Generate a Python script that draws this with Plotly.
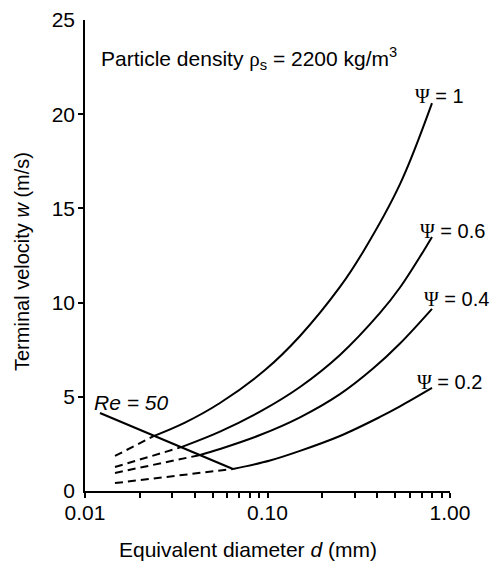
import numpy as np
import plotly.graph_objects as go

# ---- data ----
psi_labels = ["1", "0.6", "0.4", "0.2"]

# dashed part (below Re = 50) and solid part for each shape factor
psi1_dash_d = [0.0146, 0.0236]
psi1_dash_w = [1.86, 2.90]
psi1_solid_d = [0.0236, 0.0353, 0.0549, 0.0969, 0.1507, 0.2495, 0.3337, 0.5321, 0.7967]
psi1_solid_w = [2.90, 3.63, 4.67, 6.42, 8.23, 10.83, 12.69, 16.29, 20.59]

psi06_dash_d = [0.0146, 0.0340]
psi06_dash_w = [1.27, 2.34]
psi06_solid_d = [0.0340, 0.0549, 0.0910, 0.1507, 0.2495, 0.4134, 0.5321, 0.7110, 0.7967]
psi06_solid_w = [2.34, 3.15, 4.21, 5.52, 7.22, 9.45, 10.80, 12.69, 13.48]

psi04_dash_d = [0.0146, 0.0427]
psi04_dash_w = [0.96, 1.91]
psi04_solid_d = [0.0427, 0.0549, 0.0910, 0.1507, 0.2495, 0.3786, 0.5321, 0.7967]
psi04_solid_w = [1.91, 2.23, 2.97, 3.91, 5.14, 6.50, 7.83, 9.67]

psi02_dash_d = [0.0146, 0.0647]
psi02_dash_w = [0.42, 1.17]
psi02_solid_d = [0.0647, 0.1032, 0.1507, 0.2495, 0.4134, 0.5321, 0.7967]
psi02_solid_w = [1.17, 1.62, 2.13, 2.92, 3.93, 4.49, 5.47]

re50_d = [0.01208, 0.0647]
re50_w = [4.14, 1.17]

# label anchor positions (data units)
label_d = [0.627, 0.668, 0.703, 0.643]
label_w = [20.95, 13.8, 10.2, 5.77]

x_major = [0.01, 0.1, 1.0]
x_major_text = ["0.01", "0.10", "1.00"]
x_minor = [0.02, 0.03, 0.04, 0.05, 0.06, 0.07, 0.08, 0.09,
           0.2, 0.3, 0.4, 0.5, 0.6, 0.7, 0.8, 0.9]
y_major = [0, 5, 10, 15, 20, 25]
y_minor = [5, 10, 15, 20]

FONT = "Liberation Sans, Arial, sans-serif"
SERIF = "Liberation Serif, Times New Roman, serif"
LW = 2
TXT = 21

fig = go.Figure()

series = [
    (psi1_dash_d, psi1_dash_w, psi1_solid_d, psi1_solid_w),
    (psi06_dash_d, psi06_dash_w, psi06_solid_d, psi06_solid_w),
    (psi04_dash_d, psi04_dash_w, psi04_solid_d, psi04_solid_w),
    (psi02_dash_d, psi02_dash_w, psi02_solid_d, psi02_solid_w),
]
for dd, dw, sd, sw in series:
    fig.add_trace(go.Scatter(x=dd, y=dw, mode="lines",
                             line=dict(color="black", width=LW, dash="8px,5px"),
                             showlegend=False, hoverinfo="skip"))
    fig.add_trace(go.Scatter(x=sd, y=sw, mode="lines",
                             line=dict(color="black", width=LW, shape="spline", smoothing=1.0),
                             showlegend=False, hoverinfo="skip"))

fig.add_trace(go.Scatter(x=re50_d, y=re50_w, mode="lines",
                         line=dict(color="black", width=LW),
                         showlegend=False, hoverinfo="skip"))

annotations = []
for lab, ld, lw in zip(psi_labels, label_d, label_w):
    annotations.append(dict(
        x=np.log10(ld), y=lw, xref="x", yref="y",
        text=f'<span style="font-family:{SERIF}">Ψ</span> = {lab}',
        showarrow=False, xanchor="left", yanchor="middle",
        font=dict(family=FONT, size=TXT - 1, color="black")))

annotations.append(dict(
    x=np.log10(0.0109), y=4.71, xref="x", yref="y",
    text="<i>Re = 50</i>", showarrow=False, xanchor="left", yanchor="middle",
    font=dict(family=FONT, size=TXT, color="black")))

annotations.append(dict(
    x=np.log10(0.0119), y=22.96, xref="x", yref="y",
    text=f'Particle density <span style="font-family:{SERIF}">ρ</span><sub>s</sub> = 2200 kg/m<sup>3</sup>',
    showarrow=False, xanchor="left", yanchor="middle",
    font=dict(family=FONT, size=TXT, color="black")))

# axis titles (positions given in window pixels, converted below)
annotations.append(dict(
    x=248, y=549, text="Equivalent diameter <i>d</i> (mm)", showarrow=False,
    font=dict(family=FONT, size=TXT, color="black")))
annotations.append(dict(
    x=22, y=262, text="Terminal velocity <i>w</i> (m/s)", showarrow=False, textangle=-90,
    font=dict(family=FONT, size=20, color="black")))

W, H = 492, 561
ML, MT, MR, MB = 85, 20, 42, 70
pw, ph = W - ML - MR, H - MT - MB
for a in annotations[-2:]:
    a["xref"] = "paper"
    a["yref"] = "paper"
    a["x"] = (a["x"] - ML) / pw
    a["y"] = (H - MB - a["y"]) / ph
    a["xanchor"] = "center"
    a["yanchor"] = "middle"

x_tickvals = x_major + x_minor
x_ticktext = x_major_text + [""] * len(x_minor)

fig.update_layout(
    width=W, height=H,
    margin=dict(l=ML, r=MR, t=MT, b=MB, pad=0),
    plot_bgcolor="white", paper_bgcolor="white",
    font=dict(family=FONT, size=TXT, color="black"),
    annotations=annotations,
    xaxis=dict(type="log", range=[-2, 0], showgrid=False, zeroline=False,
               showline=True, linecolor="black", linewidth=1.5, automargin=False,
               tickmode="array", tickvals=x_tickvals, ticktext=x_ticktext,
               ticks="outside", ticklen=5, tickwidth=1.5, tickcolor="black",
               ticklabelstandoff=-3,
               tickfont=dict(family=FONT, size=TXT)),
    yaxis=dict(range=[0, 25], showgrid=False, zeroline=False,
               showline=True, linecolor="black", linewidth=1.5, automargin=False,
               tickmode="array", tickvals=y_major, ticks="",
               ticklabelstandoff=4,
               minor=dict(tickmode="array", tickvals=y_minor, ticks="outside",
                          ticklen=5, tickwidth=1.5, tickcolor="black", showgrid=False),
               tickfont=dict(family=FONT, size=TXT)),
)

fig.write_html("out.html",
               config={"displayModeBar": False},
               post_script="document.body.style.margin='0';document.body.style.overflow='hidden';")
